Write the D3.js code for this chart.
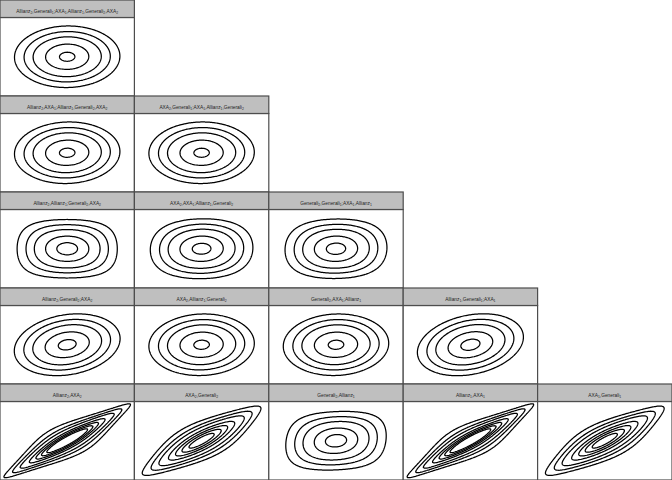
<!DOCTYPE html>
<html><head><meta charset="utf-8">
<script src="https://cdn.jsdelivr.net/npm/d3@7"></script>
<style>body{margin:0;background:#fff}svg{display:block}</style>
</head><body>
<svg id="chart" width="672" height="480"></svg>
<script>
// ---- data (one row per vine tree, top row = highest tree) ----
const panelLabels = [
  ["Allianz2,Generali1;AXA1,Allianz1,Generali2,AXA2"],
  ["Allianz2,AXA1;Allianz1,Generali2,AXA2", "AXA2,Generali1;AXA1,Allianz1,Generali2"],
  ["Allianz2,Allianz1;Generali2,AXA2", "AXA2,AXA1;Allianz1,Generali2", "Generali2,Generali1;AXA1,Allianz1"],
  ["Allianz2,Generali2;AXA2", "AXA2,Allianz1;Generali2", "Generali2,AXA1;Allianz1", "Allianz1,Generali1;AXA1"],
  ["Allianz2,AXA2", "AXA2,Generali2", "Generali2,Allianz1", "Allianz1,AXA1", "AXA1,Generali1"]
];
const families = [
  ["N"],
  ["N", "N"],
  ["t", "t", "t"],
  ["N", "N", "N", "N"],
  ["t", "t", "t", "t", "t"]
];
const rhos = [
  [0.02],
  [0.04, 0.02],
  [0.0, 0.03, 0.03],
  [0.2, 0.05, 0.05, 0.25],
  [0.86, 0.8, 0.1, 0.86, 0.8]
];
const dfs = [
  [null],
  [null, null],
  [8, 15, 12],
  [null, null, null, null],
  [3, 5, 8, 3, 5]
];
const levels = [0.01, 0.025, 0.05, 0.1, 0.15, 0.2, 0.25];
const axisDomain = [-3, 3];

// ---- math helpers ----
function lgamma(x) {
  const g = 7, c = [0.99999999999980993, 676.5203681218851, -1259.1392167224028,
    771.32342877765313, -176.61503916999185, 12.507343278686905,
    -0.13857109526572012, 9.9843695780195716e-6, 1.5056327351493116e-7];
  if (x < 0.5) return Math.log(Math.PI / Math.abs(Math.sin(Math.PI * x))) - lgamma(1 - x);
  x -= 1;
  let a = c[0];
  const t = x + g + 0.5;
  for (let i = 1; i < g + 2; i++) a += c[i] / (x + i);
  return 0.5 * Math.log(2 * Math.PI) + (x + 0.5) * Math.log(t) - t + Math.log(a);
}
function erfc(x) {
  const z = Math.abs(x), t = 1 / (1 + 0.5 * z);
  const r = t * Math.exp(-z * z - 1.26551223 + t * (1.00002368 + t * (0.37409196 + t * (0.09678418 +
    t * (-0.18628806 + t * (0.27886807 + t * (-1.13520398 + t * (1.48851587 +
    t * (-0.82215223 + t * 0.17087277)))))))));
  return x >= 0 ? r : 2 - r;
}
const normTail = x => 0.5 * erfc(x / Math.SQRT2); // P(Z > x)
function betacf(a, b, x) {
  const FPMIN = 1e-300, EPS = 3e-14;
  const qab = a + b, qap = a + 1, qam = a - 1;
  let c = 1, d = 1 - qab * x / qap;
  if (Math.abs(d) < FPMIN) d = FPMIN;
  d = 1 / d; let h = d;
  for (let m = 1; m <= 300; m++) {
    const m2 = 2 * m;
    let aa = m * (b - m) * x / ((qam + m2) * (a + m2));
    d = 1 + aa * d; if (Math.abs(d) < FPMIN) d = FPMIN;
    c = 1 + aa / c; if (Math.abs(c) < FPMIN) c = FPMIN;
    d = 1 / d; h *= d * c;
    aa = -(a + m) * (qab + m) * x / ((a + m2) * (qap + m2));
    d = 1 + aa * d; if (Math.abs(d) < FPMIN) d = FPMIN;
    c = 1 + aa / c; if (Math.abs(c) < FPMIN) c = FPMIN;
    d = 1 / d;
    const del = d * c; h *= del;
    if (Math.abs(del - 1) < EPS) break;
  }
  return h;
}
function betai(a, b, x) {
  if (x <= 0) return 0; if (x >= 1) return 1;
  const bt = Math.exp(lgamma(a + b) - lgamma(a) - lgamma(b) + a * Math.log(x) + b * Math.log(1 - x));
  if (x < (a + 1) / (a + b + 2)) return bt * betacf(a, b, x) / a;
  return 1 - bt * betacf(b, a, 1 - x) / b;
}
const tTail = (t, nu) => 0.5 * betai(nu / 2, 0.5, nu / (nu + t * t)); // P(T > t), t>=0
function tQuantileFromNormal(x, nu) {
  const q = normTail(Math.abs(x));
  let lo = 0, hi = 1e4;
  for (let k = 0; k < 200; k++) {
    const mid = 0.5 * (lo + hi);
    if (tTail(mid, nu) > q) lo = mid; else hi = mid;
  }
  return Math.sign(x) * 0.5 * (lo + hi);
}

// density on the normal scale of a bivariate copula
function densityGrid(fam, rho, nu, xs) {
  const n = xs.length, vals = new Float64Array(n * n);
  const lphi = xs.map(x => -0.5 * Math.log(2 * Math.PI) - x * x / 2);
  if (fam === "N") {
    const k = 1 / (2 * Math.PI * Math.sqrt(1 - rho * rho));
    for (let j = 0; j < n; j++) for (let i = 0; i < n; i++) {
      const x = xs[i], y = xs[j];
      vals[j * n + i] = k * Math.exp(-(x * x - 2 * rho * x * y + y * y) / (2 * (1 - rho * rho)));
    }
  } else {
    const q = xs.map(x => tQuantileFromNormal(x, nu));
    const c2 = lgamma((nu + 2) / 2) - lgamma(nu / 2) - Math.log(nu * Math.PI) - 0.5 * Math.log(1 - rho * rho);
    const c1 = lgamma((nu + 1) / 2) - lgamma(nu / 2) - 0.5 * Math.log(nu * Math.PI);
    const l1 = q.map(a => c1 - (nu + 1) / 2 * Math.log(1 + a * a / nu));
    for (let j = 0; j < n; j++) for (let i = 0; i < n; i++) {
      const a = q[i], b = q[j];
      const l2 = c2 - (nu + 2) / 2 * Math.log(1 + (a * a - 2 * rho * a * b + b * b) / (nu * (1 - rho * rho)));
      vals[j * n + i] = Math.exp(l2 - l1[i] - l1[j] + lphi[i] + lphi[j]);
    }
  }
  return vals;
}

// ---- layout ----
const W = 672, H = 480, nRows = 5, nCols = 5;
const cellW = W / nCols, cellH = H / nRows, stripH = 17.5;
const svg = d3.select("#chart");
const gridN = 145, gridExt = 3.6;
const xs = d3.range(gridN).map(i => -gridExt + 2 * gridExt * i / (gridN - 1));
const gridToData = d3.scaleLinear().domain([0.5, gridN - 0.5]).range([-gridExt, gridExt]);

panelLabels.forEach((row, r) => {
  row.forEach((label, c) => {
    const x0 = c * cellW, y0 = r * cellH;
    const g = svg.append("g");
    const plotTop = y0 + stripH, plotBot = y0 + cellH;
    const xScale = d3.scaleLinear().domain(axisDomain).range([x0, x0 + cellW]);
    const yScale = d3.scaleLinear().domain(axisDomain).range([plotBot, plotTop]);
    const clipId = `clip-${r}-${c}`;
    g.append("clipPath").attr("id", clipId).append("rect")
      .attr("x", x0).attr("y", plotTop).attr("width", cellW).attr("height", cellH - stripH);
    g.append("rect").attr("x", x0).attr("y", plotTop).attr("width", cellW).attr("height", cellH - stripH)
      .attr("fill", "#fff");

    const vals = densityGrid(families[r][c], rhos[r][c], dfs[r][c], xs);
    const contours = d3.contours().size([gridN, gridN]).thresholds(levels)(vals);
    const proj = d3.geoTransform({
      point: function(px, py) { this.stream.point(xScale(gridToData(px)), yScale(gridToData(py))); }
    });
    const path = d3.geoPath(proj);
    g.append("g").attr("clip-path", `url(#${clipId})`)
      .selectAll("path").data(contours.filter(d => d.coordinates.length)).join("path")
      .attr("d", path).attr("fill", "none").attr("stroke", "#000").attr("stroke-width", 1.25)
      .attr("stroke-linejoin", "round");

    g.append("rect").attr("x", x0).attr("y", plotTop).attr("width", cellW).attr("height", cellH - stripH)
      .attr("fill", "none").attr("stroke", "#4d4d4d").attr("stroke-width", 1.2);
    g.append("rect").attr("x", x0).attr("y", y0).attr("width", cellW).attr("height", stripH)
      .attr("fill", "#bfbfbf").attr("stroke", "#4d4d4d").attr("stroke-width", 1.2);

    const txt = g.append("text").attr("x", x0 + cellW / 2).attr("y", y0 + stripH - 5)
      .attr("text-anchor", "middle").attr("font-family", "Liberation Sans, Arial, sans-serif")
      .attr("font-size", 4.8).attr("fill", "#222");
    const parts = label.match(/[0-9]+|[^0-9]+/g);
    let shifted = false;
    parts.forEach(p => {
      const isSub = /^[0-9]+$/.test(p);
      const t = txt.append("tspan").text(p);
      if (isSub) { t.attr("font-size", 3.4).attr("dy", shifted ? 0 : 1); shifted = true; }
      else { if (shifted) t.attr("dy", -1); shifted = false; }
    });
  });
});
</script>
</body></html>
